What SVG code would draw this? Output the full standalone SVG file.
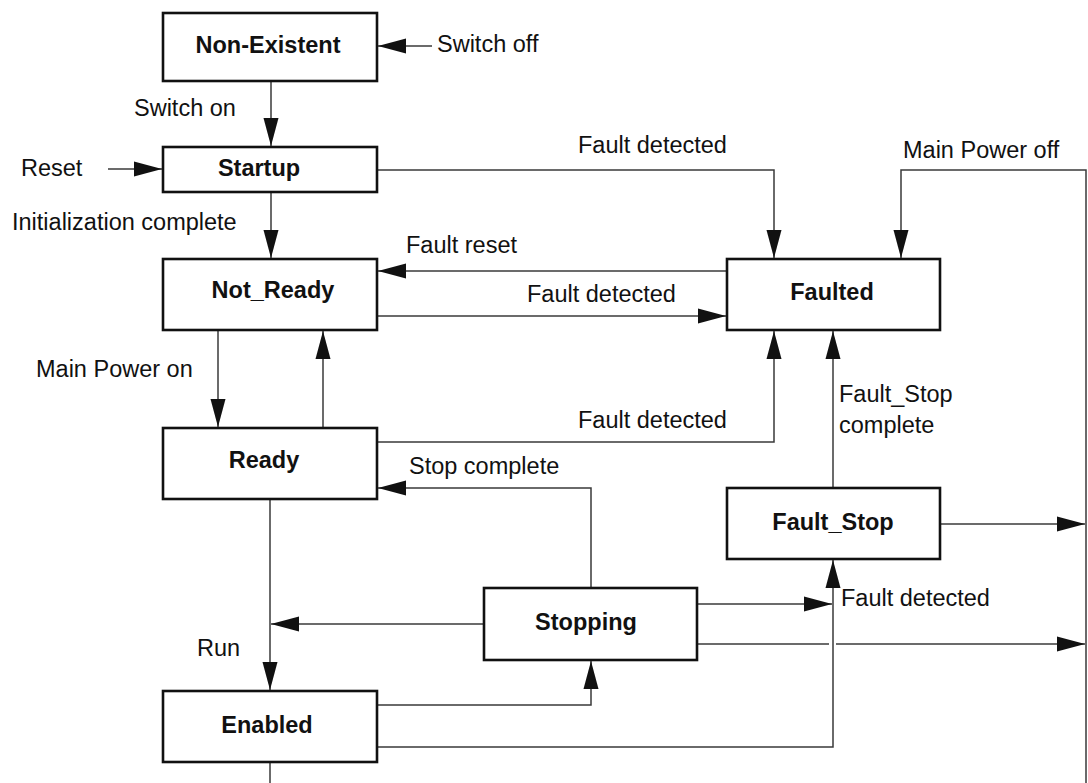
<svg xmlns="http://www.w3.org/2000/svg" width="1088" height="783" viewBox="0 0 1088 783">
<style>
.box{fill:#fff;stroke:#111;stroke-width:2.6}
.lbl{font-family:"Liberation Sans",Arial,sans-serif;font-size:23.5px;fill:#111}
.st{font-family:"Liberation Sans",Arial,sans-serif;font-size:23.5px;font-weight:bold;fill:#111;text-anchor:middle}
.ln{fill:none;stroke:#3a3a3a;stroke-width:1.5}
</style>
<defs>
<marker id="ah" markerUnits="userSpaceOnUse" markerWidth="28" markerHeight="16" refX="28" refY="8" orient="auto">
<path d="M0,0.5 L28,8 L0,15.5 z" fill="#111"/>
</marker>
</defs>
<rect width="1088" height="783" fill="#fff"/>
<g id="connectors">
<path class="ln" d="M432,46 H378" marker-end="url(#ah)"/>
<path class="ln" d="M271,81 V146" marker-end="url(#ah)"/>
<path class="ln" d="M108,169 H162" marker-end="url(#ah)"/>
<path class="ln" d="M377,170 H774 V258" marker-end="url(#ah)"/>
<path class="ln" d="M1086,783 V170 H901 V258" marker-end="url(#ah)"/>
<path class="ln" d="M271,192 V258" marker-end="url(#ah)"/>
<path class="ln" d="M727,271 H378" marker-end="url(#ah)"/>
<path class="ln" d="M377,316 H726" marker-end="url(#ah)"/>
<path class="ln" d="M218,330 V427" marker-end="url(#ah)"/>
<path class="ln" d="M323,428 V331" marker-end="url(#ah)"/>
<path class="ln" d="M377,442 H774 V331" marker-end="url(#ah)"/>
<path class="ln" d="M591,588 V488 H378" marker-end="url(#ah)"/>
<path class="ln" d="M270,499 V690" marker-end="url(#ah)"/>
<path class="ln" d="M484,624 H271" marker-end="url(#ah)"/>
<path class="ln" d="M377,705 H591 V661" marker-end="url(#ah)"/>
<path class="ln" d="M377,747 H833 V560" marker-end="url(#ah)"/>
<path class="ln" d="M697,604 H832" marker-end="url(#ah)"/>
<path class="ln" d="M697,644 H829"/>
<path class="ln" d="M836,644 H1085" marker-end="url(#ah)"/>
<path class="ln" d="M940,524 H1085" marker-end="url(#ah)"/>
<path class="ln" d="M833,488 V331" marker-end="url(#ah)"/>
<path class="ln" d="M270,763 V783"/>
</g>
<g id="labels">
<text class="lbl" x="437" y="52">Switch off</text>
<text class="lbl" x="134" y="116">Switch on</text>
<text class="lbl" x="21" y="176">Reset</text>
<text class="lbl" x="12" y="230">Initialization complete</text>
<text class="lbl" x="578" y="153">Fault detected</text>
<text class="lbl" x="903" y="158">Main Power off</text>
<text class="lbl" x="406" y="253">Fault reset</text>
<text class="lbl" x="527" y="302">Fault detected</text>
<text class="lbl" x="36" y="377">Main Power on</text>
<text class="lbl" x="578" y="428">Fault detected</text>
<text class="lbl" x="839" y="402">Fault_Stop</text>
<text class="lbl" x="839" y="433">complete</text>
<text class="lbl" x="409" y="474">Stop complete</text>
<text class="lbl" x="841" y="606">Fault detected</text>
<text class="lbl" x="197" y="656">Run</text>
</g>
<g id="non-existent"><rect class="box" x="163" y="13" width="214" height="68"/><text class="st" x="268" y="53">Non-Existent</text></g>
<g id="startup"><rect class="box" x="163" y="147" width="214" height="45"/><text class="st" x="259" y="176">Startup</text></g>
<g id="not-ready"><rect class="box" x="163" y="259" width="214" height="71"/><text class="st" x="273" y="298">Not_Ready</text></g>
<g id="faulted"><rect class="box" x="727" y="259" width="213" height="71"/><text class="st" x="832" y="300">Faulted</text></g>
<g id="ready"><rect class="box" x="163" y="428" width="214" height="71"/><text class="st" x="264" y="468">Ready</text></g>
<g id="fault-stop"><rect class="box" x="727" y="488" width="213" height="71"/><text class="st" x="833" y="530">Fault_Stop</text></g>
<g id="stopping"><rect class="box" x="484" y="588" width="213" height="72"/><text class="st" x="586" y="630">Stopping</text></g>
<g id="enabled"><rect class="box" x="163" y="691" width="214" height="71"/><text class="st" x="267" y="733">Enabled</text></g>
</svg>
